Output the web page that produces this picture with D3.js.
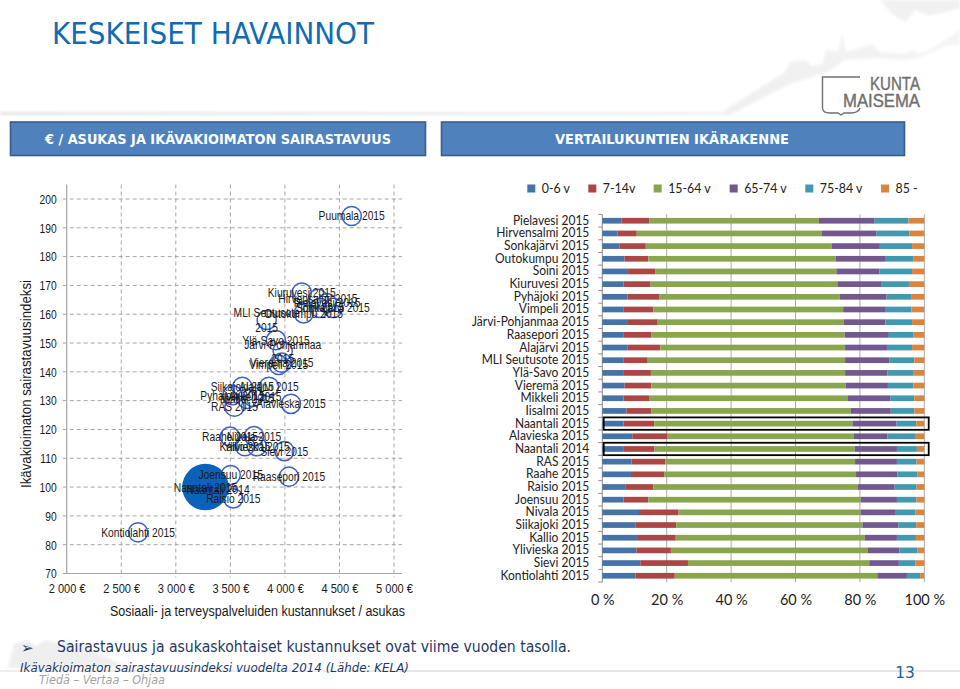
<!DOCTYPE html>
<html><head><meta charset="utf-8">
<script src="https://cdn.jsdelivr.net/npm/d3@7"></script>
<style>html,body{margin:0;padding:0;background:#fff}svg{display:block}</style>
</head><body><svg id="c" width="960" height="689"></svg>
<script>
// ---------- scatter data ----------
const scatterNames=["Puumala 2015","Kiuruvesi 2015","Hirvensalmi 2015","Pielavesi 2015","Soini 2015","Sonkajärvi 2015","Outokumpu 2015","MLI Seutusote 2015","Ylä-Savo 2015","Järvi-Pohjanmaa 2015","Vieremä 2015","Vimpeli 2015","Siikajoki 2015","Alajärvi 2015","Pyhäjoki 2015","Mikkeli 2015","Iisalmi 2015","RAS 2015","Alavieska 2015","Raahe 2015","Nivala 2015","Ylivieska 2015","Kallio 2015","Sievi 2015","Joensuu 2015","Raasepori 2015","Naantali 2014","Raisio 2015","Kontiolahti 2015","Naantali 2015"];
const scatterCost=[4612,4154,4303,4386,4322,4441,4172,3833,3918,3980,3971,3943,3610,3854,3520,3708,3653,3538,4056,3497,3717,3742,3634,3995,3503,4037,3387,3527,2654,3272];
const scatterIndex=[194.1,167.5,165.3,163.9,162.2,162.2,160.3,158.0,151.0,147.2,143.2,142.4,134.8,134.8,131.9,131.3,130.6,127.9,128.9,117.5,117.7,114.2,114.2,112.5,104.2,103.6,99,96.1,84.3,100.0];
const xTicks=[2000,2500,3000,3500,4000,4500,5000];
const yTicks=[70,80,90,100,110,120,130,140,150,160,170,180,190,200];
// ---------- age structure data ----------
const categories=["Pielavesi 2015","Hirvensalmi 2015","Sonkajärvi 2015","Outokumpu 2015","Soini 2015","Kiuruvesi 2015","Pyhäjoki 2015","Vimpeli 2015","Järvi-Pohjanmaa 2015","Raasepori 2015","Alajärvi 2015","MLI Seutusote 2015","Ylä-Savo 2015","Vieremä 2015","Mikkeli 2015","Iisalmi 2015","Naantali 2015","Alavieska 2015","Naantali 2014","RAS 2015","Raahe 2015","Raisio 2015","Joensuu 2015","Nivala 2015","Siikajoki 2015","Kallio 2015","Ylivieska 2015","Sievi 2015","Kontiolahti 2015"];
const ageLabels=["0-6 v","7-14v","15-64 v","65-74 v","75-84 v","85 -"];
const age0_6=[6.0,4.7,5.4,6.9,8.0,6.6,7.8,6.5,7.7,6.5,7.9,6.5,6.7,6.9,6.6,7.5,6.6,9.3,6.7,9.1,8.9,7.3,6.6,11.4,10.4,10.8,10.6,11.8,10.3];
const age7_14=[8.6,6.0,8.1,7.4,8.4,8.4,10.0,9.4,9.5,8.8,10.1,7.6,8.4,8.3,7.9,7.8,9.5,11.0,9.5,10.5,10.3,8.5,7.7,12.3,12.6,12.0,10.7,14.8,12.2];
const age15_64=[52.7,57.5,57.8,58.2,56.3,58.0,55.9,58.9,57.7,60.0,57.4,61.3,60.3,60.4,61.8,61.9,61.6,57.8,62.2,58.9,59.6,63.5,66.0,56.5,57.8,58.7,61.2,56.3,62.9];
const age65_74=[17.3,17.0,14.9,15.3,13.4,13.8,14.6,13.0,13.0,13.7,13.0,13.7,13.2,13.1,13.1,12.4,13.7,10.4,13.1,13.0,12.9,11.5,11.2,10.7,11.1,10.0,9.8,9.2,9.2];
const age75_84=[10.5,10.2,10.0,8.9,10.1,8.7,7.8,8.2,8.3,7.7,7.8,7.8,7.9,7.9,7.5,7.3,6.1,8.6,6.2,6.1,6.1,6.8,6.1,6.3,5.6,5.9,5.5,5.1,4.1];
const age85=[4.9,4.6,3.8,3.3,3.8,4.5,3.9,4.0,3.8,3.3,3.8,3.1,3.5,3.4,3.1,3.1,2.5,2.9,2.3,2.4,2.2,2.4,2.4,2.8,2.5,2.6,2.2,2.8,1.3];
const ageColors=["#4572a7","#aa4643","#89a54e","#71588f","#4198af","#db843d"];
const pctTicks=[0,20,40,60,80,100];
const highlighted=["Naantali 2015","Naantali 2014"];
const wrapped=["MLI Seutusote 2015","Järvi-Pohjanmaa 2015"];

const svg=d3.select("#c");
const AR="'Liberation Sans',Arial,sans-serif", TA="'DejaVu Sans',sans-serif", CA="Lato,sans-serif";
function fit(sel,w){ sel.attr("textLength",w).attr("lengthAdjust","spacingAndGlyphs"); return sel; }
function squeeze(sel,k){ sel.each(function(){const n=this.getComputedTextLength(); d3.select(this).attr("textLength",n*k).attr("lengthAdjust","spacingAndGlyphs");}); }

// decoration
const defs=svg.append("defs");
defs.append("filter").attr("id","bl").append("feGaussianBlur").attr("stdDeviation",1.6);
const lg=defs.append("linearGradient").attr("id","fade");
lg.append("stop").attr("offset",0).attr("stop-color","#e3e3e3");
lg.append("stop").attr("offset",1).attr("stop-color","#f4f4f4");
svg.append("path").attr("filter","url(#bl)").attr("fill","url(#fade)")
 .attr("d","M0 112L722 112L785 72L790 62L806 60L812 66L822 64L826 50L838 52L842 32L846 52L860 48L872 44L880 52L905 54L912 50L918 54L930 50L945 40L960 30L960 44L945 46L918 58L905 60L880 58L845 60L828 72L790 84L730 115L0 115Z");
svg.append("path").attr("filter","url(#bl)").attr("fill","#f1f1f1")
 .attr("d","M880 0L892 14L905 22L915 10L930 16L960 8L960 0Z");
svg.append("path").attr("filter","url(#bl)").attr("fill","#efefef")
 .attr("d","M8 668L14 644L26 640L36 646L46 640L60 644L70 640L90 650L112 660L130 668Z");
svg.append("rect").attr("x",400).attr("y",670).attr("width",560).attr("height",2).attr("fill","#e6e6e6");
svg.append("rect").attr("x",0).attr("y",670).attr("width",400).attr("height",2).attr("fill","#eeeeee");

// title
fit(svg.append("text").attr("x",52).attr("y",44).attr("font-family",TA).attr("font-size",31).attr("fill","#0f6cb2").text("KESKEISET HAVAINNOT"),322);

// logo
const logo=svg.append("g");
logo.append("path").attr("fill","none").attr("stroke","#6f6f6f").attr("stroke-width",1.4)
 .attr("d","M860 77L822.5 77L822.5 108Q822.5 113 830 113L838 113L841 115L844 113L851 113Q858 113 860 108");
fit(logo.append("text").attr("x",870).attr("y",90).attr("font-family",AR).attr("font-size",18).attr("fill","#6f6f6f").attr("stroke","#6f6f6f").attr("stroke-width",.4).text("KUNTA"),50);
fit(logo.append("text").attr("x",843).attr("y",107).attr("font-family",AR).attr("font-size",18).attr("fill","#6f6f6f").attr("stroke","#6f6f6f").attr("stroke-width",.4).text("MAISEMA"),77);

// header boxes
[[10.5,415,"€ / ASUKAS JA IKÄVAKIOIMATON SAIRASTAVUUS",218,346],[441.5,463,"VERTAILUKUNTIEN IKÄRAKENNE",672,234]].forEach(h=>{
 svg.append("rect").attr("x",h[0]).attr("y",122).attr("width",h[1]).attr("height",33.5).attr("fill","#4f81bd").attr("stroke","#385d8a").attr("stroke-width",1.6);
 fit(svg.append("text").attr("x",h[3]).attr("y",144).attr("text-anchor","middle").attr("font-family",TA).attr("font-weight","bold").attr("font-size",14).attr("fill","#fff").text(h[2]),h[4]);
});

// ---------- scatter ----------
const x=d3.scaleLinear().domain([2000,5000]).range([66.7,394]);
const y=d3.scaleLinear().domain([70,200]).range([573.5,199]);
const gridTop=184.5, gridRight=402;
const gx=svg.append("g").attr("transform",`translate(0,${y(70)})`)
 .call(d3.axisBottom(x).tickValues(xTicks).tickSize(0).tickPadding(10).tickFormat(d=>d3.format(",")(d).replace(",","\u00a0")+" €"));
gx.select(".domain").remove();
gx.selectAll("text").attr("font-family",AR).attr("font-size",13.5).attr("fill","#1a1a1a");
const gy=svg.append("g").attr("transform",`translate(${x(2000)},0)`)
 .call(d3.axisLeft(y).tickValues(yTicks).tickSize(0).tickPadding(10));
gy.select(".domain").remove();
gy.selectAll("text").attr("font-family",AR).attr("font-size",13.5).attr("fill","#1a1a1a");
svg.append("g").selectAll("line").data(yTicks.slice(1)).join("line")
 .attr("x1",x(2000)-4).attr("x2",gridRight).attr("y1",d=>y(d)).attr("y2",d=>y(d))
 .attr("stroke","#a6a6a6").attr("stroke-dasharray","4 3");
svg.append("g").selectAll("line").data(xTicks.slice(1)).join("line")
 .attr("x1",d=>x(d)).attr("x2",d=>x(d)).attr("y1",gridTop).attr("y2",y(70)+4)
 .attr("stroke","#a6a6a6").attr("stroke-dasharray","4 3");
svg.append("line").attr("x1",x(2000)).attr("x2",x(2000)).attr("y1",gridTop).attr("y2",y(70)).attr("stroke","#a6a6a6").attr("stroke-width",1.2);
svg.append("line").attr("x1",x(2000)-4).attr("x2",gridRight).attr("y1",y(70)).attr("y2",y(70)).attr("stroke","#a6a6a6").attr("stroke-width",1.2);

const pts=scatterNames.map((n,i)=>({n,c:scatterCost[i],v:scatterIndex[i]}));
const isBig=d=>d.n==="Naantali 2015";
svg.append("g").selectAll("circle").data(pts).join("circle")
 .attr("cx",d=>x(d.c)).attr("cy",d=>y(d.v)).attr("r",d=>isBig(d)?22.5:9.6)
 .attr("fill",d=>isBig(d)?"#0b62ba":"none").attr("stroke",d=>isBig(d)?"#0b62ba":"#3f60c8").attr("stroke-width",1.5);
const lab=svg.append("g").attr("font-family",AR).attr("font-size",13.5).attr("fill","#1a1a1a").attr("text-anchor","middle");
pts.forEach(d=>{
 if(wrapped.includes(d.n)){
  const w=d.n.split(" "), last=w.pop();
  lab.append("text").attr("x",x(d.c)).attr("y",y(d.v)-2.5).text(w.join(" "));
  lab.append("text").attr("x",x(d.c)).attr("y",y(d.v)+12).text(last);
 } else lab.append("text").attr("x",x(d.c)).attr("y",y(d.v)+4.5).text(d.n);
});
squeeze(gx.selectAll("text"),.82); squeeze(gy.selectAll("text"),.76); squeeze(lab.selectAll("text"),.76);
fit(svg.append("text").attr("x",257.5).attr("y",616).attr("text-anchor","middle").attr("font-family",AR).attr("font-size",15.5).attr("fill","#1a1a1a").text("Sosiaali- ja terveyspalveluiden kustannukset / asukas"),295);
fit(svg.append("text").attr("transform","translate(31,384) rotate(-90)").attr("text-anchor","middle").attr("font-family",AR).attr("font-size",15.5).attr("fill","#1a1a1a").text("Ikävakioimaton sairastavuusindeksi"),208);

// ---------- stacked bars ----------
const table=categories.map((c,i)=>({c,0:age0_6[i],1:age7_14[i],2:age15_64[i],3:age65_74[i],4:age75_84[i],5:age85[i]}));
const stacked=d3.stack().keys([0,1,2,3,4,5]).offset(d3.stackOffsetExpand)(table);
const bx=d3.scaleLinear().domain([0,1]).range([602.3,924.3]);
const by=d3.scaleBand().domain(categories).range([214.4,582.1]).paddingInner(.55).paddingOuter(.275);
const step=by.step();
svg.append("g").selectAll("line").data(pctTicks).join("line")
 .attr("x1",d=>bx(d/100)).attr("x2",d=>bx(d/100)).attr("y1",214.4).attr("y2",582.1)
 .attr("stroke",(d,i)=>i?"#a9a9a9":"#8c8c8c").attr("stroke-width",1);
svg.append("g").selectAll("line").data(categories.concat(["end"])).join("line")
 .attr("x1",bx(0)-4).attr("x2",bx(0)).attr("y1",(d,i)=>214.4+i*step).attr("y2",(d,i)=>214.4+i*step).attr("stroke","#8c8c8c");
svg.append("g").selectAll("g").data(stacked).join("g").attr("fill",(d,i)=>ageColors[i])
 .selectAll("rect").data(d=>d).join("rect")
 .attr("x",d=>bx(d[0])).attr("width",d=>bx(d[1])-bx(d[0])).attr("y",d=>by(d.data.c)).attr("height",by.bandwidth());
const bl=svg.append("g").attr("transform",`translate(${bx(0)},0)`).call(d3.axisLeft(by).tickSize(0).tickPadding(13));
bl.select(".domain").remove();
bl.selectAll("text").attr("font-family",CA).attr("font-size",12.5).attr("fill","#222");
squeeze(bl.selectAll("text"),.96);
const bb=svg.append("g").attr("transform","translate(0,582.1)").call(d3.axisBottom(bx).tickValues(pctTicks.map(d=>d/100)).tickSize(0).tickPadding(13).tickFormat(d=>Math.round(d*100)+" %"));
bb.select(".domain").remove();
bb.selectAll("text").attr("font-family",CA).attr("font-size",14.5).attr("fill","#222");
svg.append("g").selectAll("rect").data(highlighted).join("rect")
 .attr("x",603.7).attr("width",325).attr("y",d=>by(d)+by.bandwidth()/2-6.2).attr("height",12.4)
 .attr("fill","none").attr("stroke","#000").attr("stroke-width",1.8);
// legend
const legX=[527.3,588.3,653.7,729.7,805.3,881];
const lgd=svg.append("g").selectAll("g").data(ageLabels).join("g").attr("transform",(d,i)=>`translate(${legX[i]},188.5)`);
lgd.append("rect").attr("y",-4).attr("width",8).attr("height",8).attr("fill",(d,i)=>ageColors[i]);
lgd.append("text").attr("x",14.5).attr("y",4.5).attr("font-family",CA).attr("font-size",13).attr("fill","#222").text(d=>d);
squeeze(lgd.selectAll("text"),.95);

// footer
svg.append("text").attr("x",21).attr("y",653).attr("font-family",TA).attr("font-size",15).attr("fill","#1f3864").text("➢");
fit(svg.append("text").attr("x",57).attr("y",652).attr("font-family",TA).attr("font-size",15.5).attr("fill","#1f3864").text("Sairastavuus ja asukaskohtaiset kustannukset ovat viime vuoden tasolla."),514);
fit(svg.append("text").attr("x",20).attr("y",672).attr("font-family",TA).attr("font-style","italic").attr("font-size",13).attr("fill","#1f3864").text("Ikävakioimaton sairastavuusindeksi vuodelta 2014 (Lähde: KELA)"),389);
fit(svg.append("text").attr("x",39).attr("y",684).attr("font-family",TA).attr("font-style","italic").attr("font-size",12.5).attr("fill","#a3a3a3").text("Tiedä – Vertaa – Ohjaa"),126);
svg.append("text").attr("x",905).attr("y",678).attr("text-anchor","middle").attr("font-family",TA).attr("font-size",15.5).attr("fill","#1f6391").text("13");
</script></body></html>
